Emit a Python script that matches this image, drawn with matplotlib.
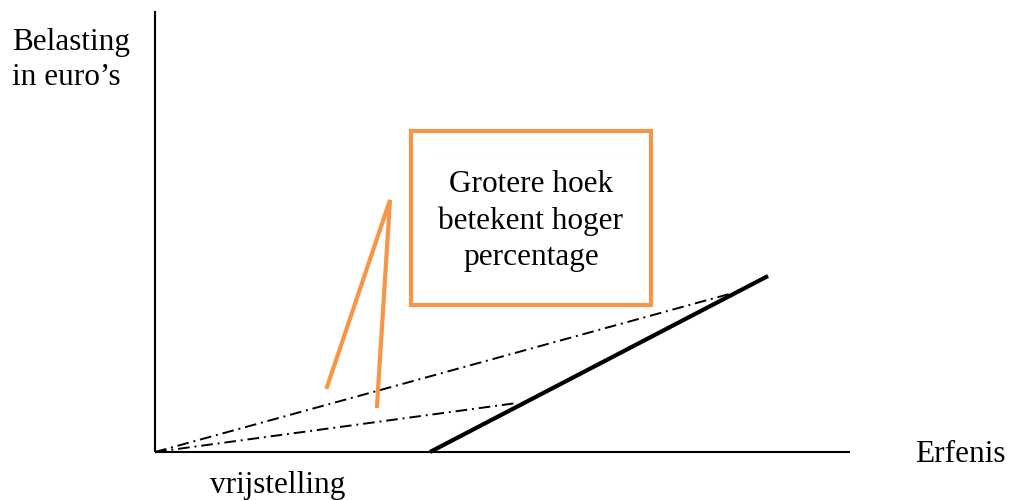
import matplotlib.pyplot as plt
from matplotlib.patches import Rectangle

plt.rcParams['font.family'] = ['Liberation Serif', 'DejaVu Serif']

# schematic coordinates: origin at the corner of the axes, y pointing up
axis_x = [0, 695]
axis_y = [0, 441]

# tax line after the exemption (solid, thick)
tax_x = [275, 613]
tax_y = [0, 176]

# average-rate lines from the origin (dash-dot)
avg_high_x = [0, 578]
avg_high_y = [0, 159]
avg_low_x = [0, 362]
avg_low_y = [0, 49]

# orange pointer lines
pointer_x = [172, 235, 222]
pointer_y = [65, 252, 46]

# orange text box
box_x0, box_y0, box_w, box_h = 256, 147, 240, 174
box_text = 'Grotere hoek\nbetekent hoger\npercentage'

orange = '#F79646'
fs = 22.5
dashdot = (0, (6, 2.5, 1, 2.5))

fig = plt.figure(figsize=(10.1, 5), dpi=100)
ax = fig.add_axes([0, 0, 1, 1])
ax.set_xlim(-155, 855)
ax.set_ylim(-48, 452)
ax.axis('off')

# axes
ax.plot([axis_x[0], axis_x[0]], [0, axis_y[1]], color='black', lw=1.5, solid_capstyle='butt')
ax.plot(axis_x, [0, 0], color='black', lw=1.5, solid_capstyle='butt')

ax.plot(tax_x, tax_y, color='black', lw=3, solid_capstyle='butt')
ax.plot(avg_high_x, avg_high_y, color='black', lw=1.4, linestyle=dashdot)
ax.plot(avg_low_x, avg_low_y, color='black', lw=1.4, linestyle=dashdot)

ax.plot(pointer_x, pointer_y, color=orange, lw=3, solid_joinstyle='miter')
ax.add_patch(Rectangle((box_x0, box_y0), box_w, box_h, fill=False,
                       edgecolor=orange, lw=3))
ax.text(box_x0 + box_w / 2, box_y0 + box_h / 2 - 3, box_text, ha='center', va='center',
        fontsize=fs, linespacing=1.31)

ax.text(-143, 392, 'Belasting\nin euro’s', ha='left', va='center', fontsize=fs,
        linespacing=1.24)
ax.text(760, -2, 'Erfenis', ha='left', va='center', fontsize=fs)
ax.text(55, -33, 'vrijstelling', ha='left', va='center', fontsize=fs)

fig.savefig('out.png', dpi=100)
